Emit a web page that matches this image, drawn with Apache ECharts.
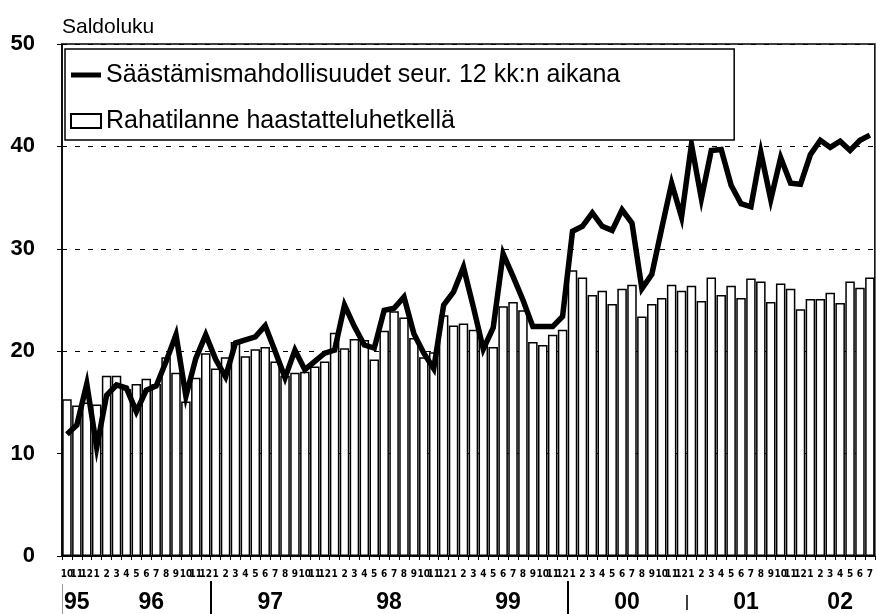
<!DOCTYPE html>
<html><head><meta charset="utf-8">
<script src="https://cdn.jsdelivr.net/npm/echarts@6/dist/echarts.min.js"></script>
<style>html,body{margin:0;padding:0;background:#fff}#c{width:876px;height:614px}</style>
</head><body><div id="c"></div>
<script>
const monthLabels = ['10','11','12',
 '1','2','3','4','5','6','7','8','9','10','11','12',
 '1','2','3','4','5','6','7','8','9','10','11','12',
 '1','2','3','4','5','6','7','8','9','10','11','12',
 '1','2','3','4','5','6','7','8','9','10','11','12',
 '1','2','3','4','5','6','7','8','9','10','11','12',
 '1','2','3','4','5','6','7','8','9','10','11','12',
 '1','2','3','4','5','6','7'];
const yearLabels = ['95','96','97','98','99','00','01','02'];
const yTicks = [0,10,20,30,40,50];

const saastamismahdollisuudet = [
 11.9,12.8,16.8,
 10.6,15.7,16.7,16.4,14.1,16.2,16.6,19.0,21.6,15.6,19.3,21.6,
 19.2,17.5,20.8,21.1,21.4,22.5,20.0,17.4,20.1,18.2,19.0,19.8,
 20.1,24.5,22.4,20.6,20.3,24.0,24.2,25.3,21.7,19.8,18.3,24.5,
 25.8,28.2,24.3,20.2,22.3,29.5,27.3,25.0,22.4,22.4,22.4,23.4,
 31.7,32.2,33.5,32.2,31.8,33.8,32.5,26.1,27.5,32.0,36.4,33.1,
 40.2,34.9,39.6,39.7,36.2,34.4,34.1,39.4,34.8,38.9,36.4,36.3,
 39.2,40.6,39.9,40.5,39.6,40.6,41.1];

const rahatilanne = [
 15.3,14.7,15.0,
 14.8,17.6,17.6,16.3,16.8,17.3,16.8,19.4,17.9,15.1,17.4,19.8,
 18.3,19.4,20.9,19.5,20.2,20.4,19.0,17.6,17.9,18.0,18.5,19.0,
 21.8,20.3,21.2,21.1,19.2,22.0,23.9,23.3,21.3,19.4,19.9,23.5,
 22.5,22.7,22.1,21.0,20.4,24.4,24.8,24.0,20.9,20.6,21.6,22.1,
 27.9,27.2,25.5,25.9,24.6,26.1,26.5,23.4,24.6,25.2,26.5,25.9,
 26.4,24.9,27.2,25.5,26.4,25.2,27.1,26.8,24.8,26.6,26.1,24.1,
 25.1,25.1,25.7,24.7,26.8,26.2,27.2];

const longSeparators = [15, 51];
const faintSeparators = [0];
const shortSeparators = [63];

// year spans derived from month labels (a new year starts at '1')
const yearStarts = [0];
monthLabels.forEach((m, i) => { if (m === '1') yearStarts.push(i); });
const yearCenters = yearStarts.map((s, k) => {
  const e = k + 1 < yearStarts.length ? yearStarts[k + 1] : monthLabels.length;
  return (s + e) / 2;
});

const L1 = 'Säästämismahdollisuudet seur. 12 kk:n aikana';
const L2 = 'Rahatilanne haastatteluhetkellä';
const F = "'Liberation Sans', Arial, sans-serif";
const FN = "'DejaVu Sans Condensed', sans-serif";

const chart = echarts.init(document.getElementById('c'), null, {renderer: 'canvas'});
chart.setOption({
  animation: false,
  backgroundColor: '#fff',
  title: {text: 'Saldoluku', left: 57, top: 12,
    textStyle: {fontFamily: F, fontSize: 21, fontWeight: 'normal', color: '#000'}},
  grid: {left: 62, top: 44, width: 816, height: 512, show: true,
    borderColor: '#000', borderWidth: 1.5, backgroundColor: 'transparent'},
  legend: {
    orient: 'vertical', left: 65, top: 49, padding: [11, 114, 4, 5], itemGap: 16,
    itemWidth: 30, itemHeight: 14, backgroundColor: '#fff', borderColor: '#000', borderWidth: 1.5,
    selectedMode: false,
    textStyle: {fontFamily: F, fontSize: 25, color: '#000', lineHeight: 30},
    data: [
      {name: L1, icon: 'path://M0,0L30,0L30,5L0,5Z', itemStyle: {color: '#000', borderWidth: 0}},
      {name: L2, icon: 'rect'}
    ]
  },
  xAxis: [
    {type: 'category', data: monthLabels, boundaryGap: true,
      axisLine: {lineStyle: {color: '#000', width: 1.5}},
      axisTick: {show: true, interval: 0, length: 4, lineStyle: {color: '#000', width: 1}},
      axisLabel: {interval: 0, margin: 13, fontFamily: FN, fontSize: 10, fontWeight: 'bold', color: '#000'},
      splitLine: {show: false}},
    {type: 'value', min: 0, max: monthLabels.length, position: 'bottom', offset: 25,
      axisLine: {show: false}, splitLine: {show: false},
      axisTick: {show: true, customValues: longSeparators, length: 34, lineStyle: {color: '#000', width: 2}},
      axisLabel: {show: true, customValues: yearCenters, margin: 10,
        formatter: v => yearLabels[yearCenters.indexOf(v)] || '',
        fontFamily: F, fontSize: 23, fontWeight: 'bold', color: '#000'}},
    {type: 'value', min: 0, max: monthLabels.length, position: 'bottom', offset: 39,
      axisLine: {show: false}, splitLine: {show: false},
      axisTick: {show: true, customValues: shortSeparators, length: 15, lineStyle: {color: '#000', width: 1.5}},
      axisLabel: {show: false}},
    {type: 'value', min: 0, max: monthLabels.length, position: 'bottom', offset: 28,
      axisLine: {show: false}, splitLine: {show: false},
      axisTick: {show: true, customValues: faintSeparators, length: 30, lineStyle: {color: '#999', width: 1}},
      axisLabel: {show: false}}
  ],
  yAxis: {type: 'value', min: yTicks[0], max: yTicks[yTicks.length - 1], interval: 10,
    axisLine: {show: true, lineStyle: {color: '#000', width: 1.5}},
    axisTick: {show: true, length: 5, lineStyle: {color: '#000'}},
    axisLabel: {margin: 27, fontFamily: F, fontSize: 22, fontWeight: 'bold', color: '#000'},
    splitLine: {show: true, lineStyle: {type: [5, 8], color: '#000', width: 1.2}}},
  series: [
    {name: L1, type: 'line', data: saastamismahdollisuudet, symbol: 'none', z: 3,
      lineStyle: {color: '#000', width: 5.5, join: 'miter', miterLimit: 10}, itemStyle: {color: '#000'}},
    {name: L2, type: 'bar', data: rahatilanne, barCategoryGap: '4%', z: 2,
      itemStyle: {color: '#fff', borderColor: '#000', borderWidth: 1.5}}
  ]
});
</script></body></html>
